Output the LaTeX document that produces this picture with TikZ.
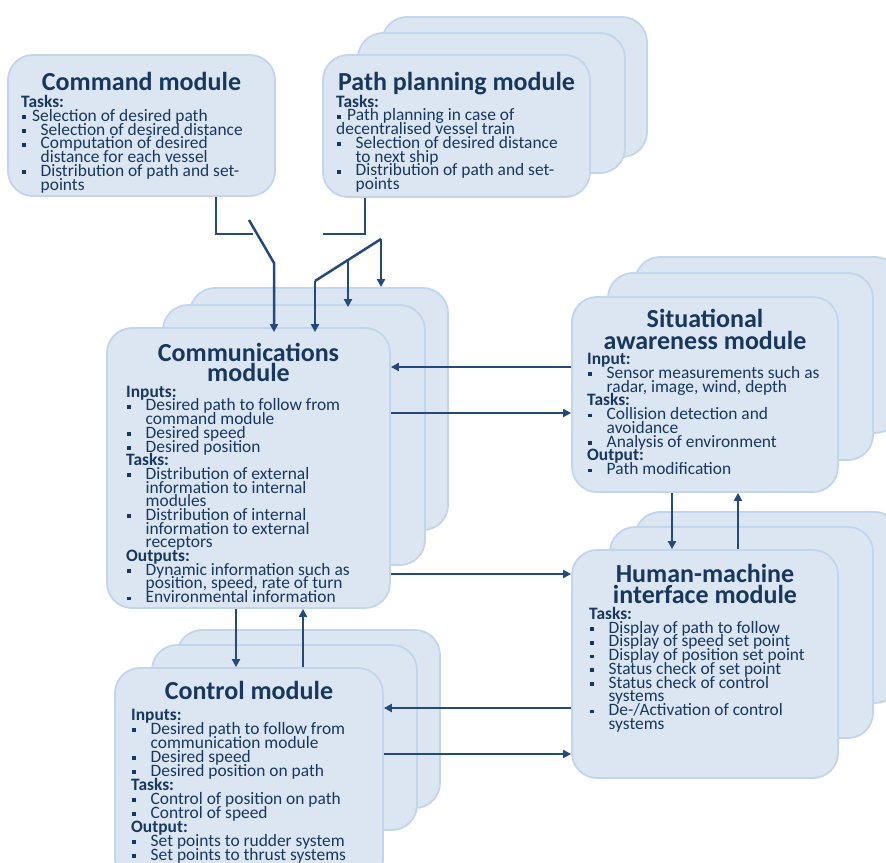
\documentclass[tikz,border=0pt]{standalone}
\usepackage{fontspec}
\setmainfont{Carlito}
\usetikzlibrary{arrows.meta}
\definecolor{boxfill}{HTML}{DCE6F2}
\definecolor{boxline}{HTML}{C3D5EC}
\definecolor{navy}{HTML}{17375E}
\definecolor{arrowc}{HTML}{24497D}
\newcommand\sqb{\rule[2.2pt]{3.8pt}{3.8pt}}
\newcommand\hd[1]{\textbf{#1}}
\newcommand\bfi[1]{\makebox[11pt][l]{\hspace{1pt}\sqb}#1}
\newcommand\bit[1]{\makebox[19.5pt][l]{\hspace{1pt}\sqb}#1}
\newcommand\cnt[1]{\hspace*{19.5pt}#1}
\newcommand\blk[2][13.75pt]{\vtop{\baselineskip=#1\lineskiplimit=-\maxdimen\lineskip=0pt\halign{##\hfil\cr#2\crcr}}}
\tikzset{
  box/.style={draw=boxline, fill=boxfill, line width=1.8pt, rounded corners=25pt, inner sep=0pt, shape=rectangle},
  txt/.style={inner sep=0pt, text=navy, font=\fontsize{17.4}{13.75}\selectfont, anchor=base west},
  ttl/.style={inner sep=0pt, text=navy, font=\fontsize{26}{22}\selectfont\bfseries, anchor=base},
  conn/.style={draw=arrowc, line width=2.5pt},
  arr/.style={conn, -{Triangle[length=8pt,width=8pt]}}
}
\begin{document}
\begin{tikzpicture}[x=1pt,y=-1pt]
\useasboundingbox (0,0) rectangle (886,862);
% boxes
\node[box, minimum width=267pt, minimum height=141pt] (cmd) at (141.5,125.5) {};
\node[box, minimum width=265pt, minimum height=140pt] (pp3) at (514.5,87) {};
\node[box, minimum width=267pt, minimum height=140pt] (pp2) at (491.5,103) {};
\node[box, minimum width=267pt, minimum height=142pt] (pp1) at (456.5,126) {};
\node[box, minimum width=258pt, minimum height=242pt] (comm3) at (319,409) {};
\node[box, minimum width=262pt, minimum height=260pt] (comm2) at (294,435) {};
\node[box, minimum width=283pt, minimum height=280pt] (comm1) at (248.5,468) {};
\node[box, minimum width=265pt, minimum height=176pt] (sa3) at (767.5,345) {};
\node[box, minimum width=265pt, minimum height=187pt] (sa2) at (740.5,366.5) {};
\node[box, minimum width=266pt, minimum height=195pt] (sa1) at (705,394.5) {};
\node[box, minimum width=265pt, minimum height=191pt] (hmi3) at (767.5,607.5) {};
\node[box, minimum width=263pt, minimum height=211pt] (hmi2) at (741.5,632.5) {};
\node[box, minimum width=266pt, minimum height=228pt] (hmi1) at (705,664) {};
\node[box, minimum width=263pt, minimum height=178pt] (ctrl3) at (308.5,719) {};
\node[box, minimum width=265pt, minimum height=185pt] (ctrl2) at (284.5,737.5) {};
\node[box, minimum width=268pt, minimum height=216pt] (ctrl1) at (249,776) {};
% titles
\node[ttl] (cmdH) at (141.5,90) {Command module};
\node[ttl] (ppH) at (456.5,90) {Path planning module};
\node[ttl] (commH1) at (248.5,361) {Communications};
\node[ttl] (commH2) at (248.5,381.7) {module};
\node[ttl] (saH1) at (705,327.5) {Situational};
\node[ttl] (saH2) at (705,349) {awareness module};
\node[ttl] (hmiH1) at (705,582) {Human-machine};
\node[ttl] (hmiH2) at (705,603.5) {interface module};
\node[ttl] (ctrlH) at (249,699) {Control module};
% texts
\node[txt] (cmdT) at (21,107.5) {\blk{\hd{Tasks:}\cr
\bfi{Selection of desired path}\cr
\bit{Selection of desired distance}\cr
\bit{Computation of desired}\cr
\cnt{distance for each vessel}\cr
\bit{Distribution of path and set-}\cr
\cnt{points}}};
\node[txt] (ppT) at (336,107) {\blk{\hd{Tasks:}\cr
\bfi{Path planning in case of}\cr
decentralised vessel train\cr
\bit{Selection of desired distance}\cr
\cnt{to next ship}\cr
\bit{Distribution of path and set-}\cr
\cnt{points}}};
\node[txt] (commT) at (126,397.3) {\blk[13.68pt]{\hd{Inputs:}\cr
\bit{Desired path to follow from}\cr
\cnt{command module}\cr
\bit{Desired speed}\cr
\bit{Desired position}\cr
\hd{Tasks:}\cr
\bit{Distribution of external}\cr
\cnt{information to internal}\cr
\cnt{modules}\cr
\bit{Distribution of internal}\cr
\cnt{information to external}\cr
\cnt{receptors}\cr
\hd{Outputs:}\cr
\bit{Dynamic information such as}\cr
\cnt{position, speed, rate of turn}\cr
\bit{Environmental information}}};
\node[txt] (saT) at (587,364.5) {\blk{\hd{Input:}\cr
\bit{Sensor measurements such as}\cr
\cnt{radar, image, wind, depth}\cr
\hd{Tasks:}\cr
\bit{Collision detection and}\cr
\cnt{avoidance}\cr
\bit{Analysis of environment}\cr
\hd{Output:}\cr
\bit{Path modification}}};
\node[txt] (hmiT) at (589,619.3) {\blk{\hd{Tasks:}\cr
\bit{Display of path to follow}\cr
\bit{Display of speed set point}\cr
\bit{Display of position set point}\cr
\bit{Status check of set point}\cr
\bit{Status check of control}\cr
\cnt{systems}\cr
\bit{De-/Activation of control}\cr
\cnt{systems}}};
\node[txt] (ctrlT) at (131,720.5) {\blk[13.95pt]{\hd{Inputs:}\cr
\bit{Desired path to follow from}\cr
\cnt{communication module}\cr
\bit{Desired speed}\cr
\bit{Desired position on path}\cr
\hd{Tasks:}\cr
\bit{Control of position on path}\cr
\bit{Control of speed}\cr
\hd{Output:}\cr
\bit{Set points to rudder system}\cr
\bit{Set points to thrust systems}}};
% connectors: command module switch
\coordinate (cj) at (216,234);
\coordinate (cs1) at (249,220);
\coordinate (cs2) at (274,263);
\draw[conn] (216,0 |- cmd.south) -- (cj) -- (253,234);
\draw[arr, shorten >=-5pt] (cs1) -- (cs2) -- (cs2 |- comm1.north);
% path planning switch
\coordinate (pj) at (365,234);
\coordinate (pa) at (315,281);
\coordinate (pm) at (348,260);
\coordinate (pb) at (381,239);
\draw[conn] (365,0 |- pp1.south) -- (pj) -- (323,234);
\draw[conn] (pa) -- (pb);
\draw[arr, shorten >=-5pt] (pa) -- (pa |- comm1.north);
\draw[arr, shorten >=-3pt] (pm) -- (pm |- comm2.north);
\draw[arr] (pb) -- (pb |- comm3.north);
% side connectors
\draw[arr] (sa1.west |- 0,367) -- (comm1.east |- 0,367);
\draw[arr] (comm1.east |- 0,413) -- (sa1.west |- 0,413);
\draw[arr] (comm1.east |- 0,574) -- (hmi1.west |- 0,574);
\draw[arr] (672,0 |- sa1.south) -- (672,0 |- hmi1.north);
\draw[arr] (738,0 |- hmi1.north) -- (738,0 |- sa1.south);
\draw[arr] (236,0 |- comm1.south) -- (236,0 |- ctrl1.north);
\draw[arr] (303,0 |- ctrl1.north) -- (303,0 |- comm1.south);
\draw[arr] (hmi1.west |- 0,708) -- (ctrl1.east |- 0,708);
\draw[arr] (ctrl1.east |- 0,754) -- (hmi1.west |- 0,754);
\end{tikzpicture}
\end{document}
